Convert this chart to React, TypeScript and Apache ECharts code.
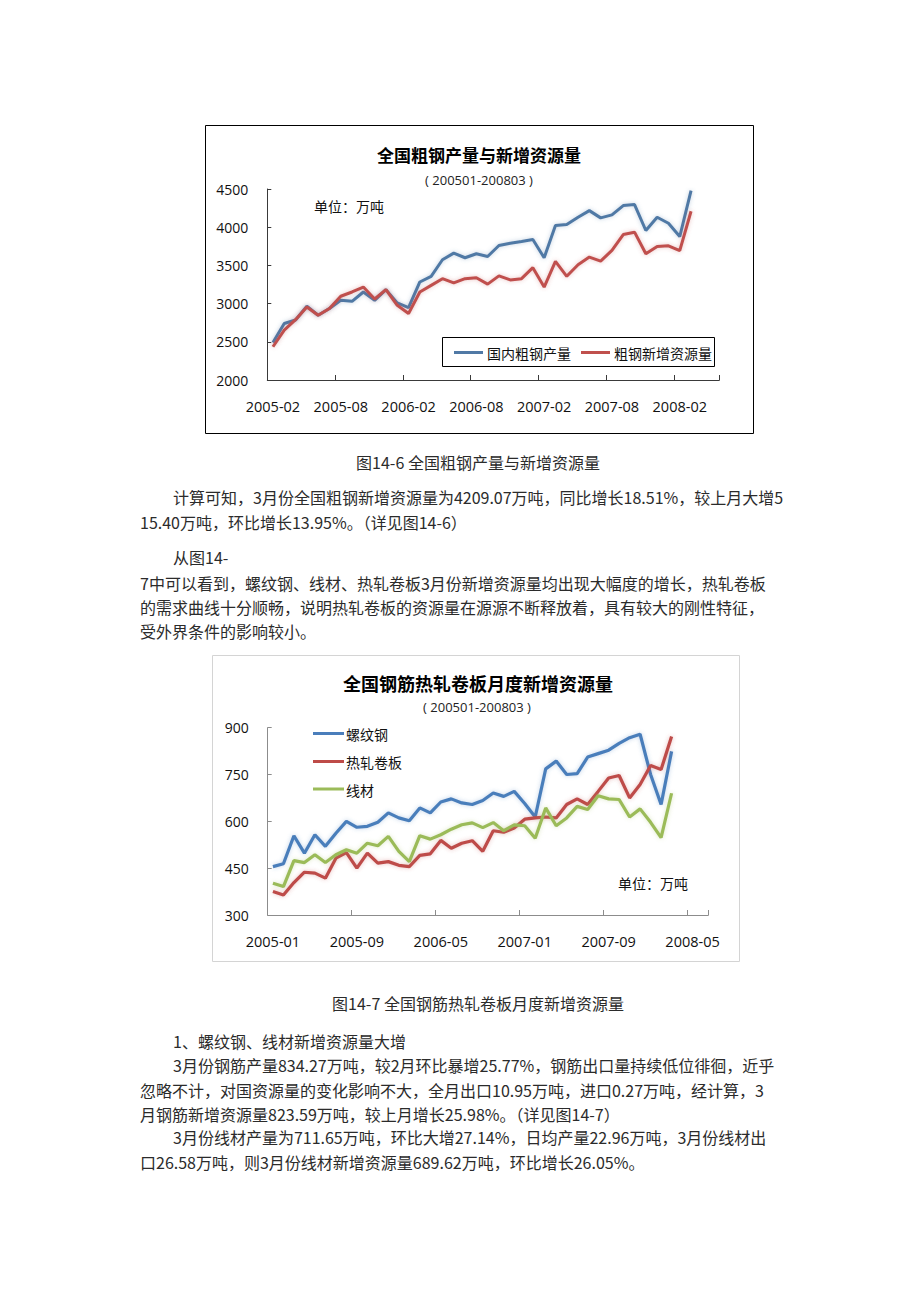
import React, { useEffect, useRef } from "react";
import * as echarts from "echarts";

// ---------- Chart 14-6 data (2005-02 .. 2008-03) ----------
const months1 = [
  "2005-02", "2005-03", "2005-04", "2005-05", "2005-06", "2005-07", "2005-08", "2005-09", "2005-10", "2005-11", "2005-12",
  "2006-01", "2006-02", "2006-03", "2006-04", "2006-05", "2006-06", "2006-07", "2006-08", "2006-09", "2006-10", "2006-11", "2006-12",
  "2007-01", "2007-02", "2007-03", "2007-04", "2007-05", "2007-06", "2007-07", "2007-08", "2007-09", "2007-10", "2007-11", "2007-12",
  "2008-01", "2008-02", "2008-03", "2008-04", "2008-05",
];
const crudeSteelOutput = [
  2490, 2740, 2785, 2965, 2848, 2935, 3043, 3030, 3152, 3043,
  3183, 3009, 2948, 3283, 3357, 3574, 3661, 3600, 3652, 3617,
  3761, 3791, 3813, 3839, 3600, 4022, 4035, 4130, 4217, 4122,
  4161, 4283, 4296, 3957, 4130, 4052, 3878, 4478,
];
const crudeSteelNewResource = [
  2435, 2652, 2790, 2955, 2848, 2935, 3096, 3152, 3217, 3060,
  3183, 2978, 2870, 3152, 3239, 3326, 3270, 3326, 3339, 3255,
  3363, 3310, 3326, 3470, 3217, 3552, 3357, 3509, 3609, 3557,
  3696, 3904, 3935, 3652, 3748, 3757, 3694, 4209,
];

// ---------- Chart 14-7 data (2005-01 .. 2008-03) ----------
const months2 = [
  "2005-01", "2005-02", "2005-03", "2005-04", "2005-05", "2005-06", "2005-07", "2005-08", "2005-09", "2005-10", "2005-11", "2005-12",
  "2006-01", "2006-02", "2006-03", "2006-04", "2006-05", "2006-06", "2006-07", "2006-08", "2006-09", "2006-10", "2006-11", "2006-12",
  "2007-01", "2007-02", "2007-03", "2007-04", "2007-05", "2007-06", "2007-07", "2007-08", "2007-09", "2007-10", "2007-11", "2007-12",
  "2008-01", "2008-02", "2008-03", "2008-04", "2008-05", "2008-06",
];
const rebar = [
  455, 464, 554, 498, 557, 520, 562, 600, 581, 584,
  597, 627, 611, 602, 643, 627, 662, 672, 659, 654,
  667, 691, 680, 696, 657, 614, 768, 793, 750, 753,
  806, 817, 828, 850, 868, 879, 750, 654, 824,
];
const hotRolledCoil = [
  375, 364, 404, 437, 434, 418, 482, 500, 450, 498,
  466, 471, 459, 455, 491, 496, 539, 514, 530, 538,
  504, 570, 565, 579, 607, 611, 614, 611, 654, 672,
  654, 696, 739, 747, 675, 718, 779, 766, 872,
];
const wireRod = [
  402, 391, 474, 468, 493, 468, 493, 509, 498, 530,
  522, 552, 504, 471, 554, 543, 557, 575, 589, 595,
  580, 596, 570, 589, 586, 546, 643, 586, 611, 648,
  638, 682, 672, 670, 614, 640, 597, 548, 690,
];

// ---------- Texts ----------
const title1 = "全国粗钢产量与新增资源量";
const title2 = "全国钢筋热轧卷板月度新增资源量";
const subTitle = "( 200501-200803 )";
const unitText = "单位：万吨";
const legend1 = ["国内粗钢产量", "粗钢新增资源量"];
const legend2 = ["螺纹钢", "热轧卷板", "线材"];
const caption1 = "图14-6 全国粗钢产量与新增资源量";
const caption2 = "图14-7 全国钢筋热轧卷板月度新增资源量";
const para1 = [
  "计算可知，3月份全国粗钢新增资源量为4209.07万吨，同比增长18.51%，较上月大增5",
  "15.40万吨，环比增长13.95%。（详见图14-6）",
];
const para2 = [
  "从图14-",
  "7中可以看到，螺纹钢、线材、热轧卷板3月份新增资源量均出现大幅度的增长，热轧卷板",
  "的需求曲线十分顺畅，说明热轧卷板的资源量在源源不断释放着，具有较大的刚性特征，",
  "受外界条件的影响较小。",
];
const para3 = [
  "1、螺纹钢、线材新增资源量大增",
  "3月份钢筋产量834.27万吨，较2月环比暴增25.77%，钢筋出口量持续低位徘徊，近乎",
  "忽略不计，对国资源量的变化影响不大，全月出口10.95万吨，进口0.27万吨，经计算，3",
  "月钢筋新增资源量823.59万吨，较上月增长25.98%。（详见图14-7）",
  "3月份线材产量为711.65万吨，环比大增27.14%，日均产量22.96万吨，3月份线材出",
  "口26.58万吨，则3月份线材新增资源量689.62万吨，环比增长26.05%。",
];

const FONT = "'Open Sans', 'Noto Sans CJK SC', sans-serif";
const CJK = "'Noto Sans CJK SC', sans-serif";
const BODY_COLOR = "#2b2b2b";

const C1_BLUE = "#5079a5";
const C1_RED = "#c0504d";
const C2_BLUE = "#4a7ebb";
const C2_RED = "#be4b48";
const C2_GREEN = "#9bbb59";

function txt(text: string, x: number, y: number, size: number, extra: any = {}) {
  return {
    type: "text",
    silent: true,
    style: {
      text,
      x,
      y,
      fontSize: size,
      fontFamily: extra.fontFamily || CJK,
      fontWeight: extra.fontWeight || "normal",
      fill: extra.fill || "#111",
      textAlign: extra.align || "left",
      textVerticalAlign: "middle",
    },
  };
}

function hline(x1: number, x2: number, y: number, color: string, w: number) {
  return {
    type: "line",
    silent: true,
    shape: { x1, y1: y, x2, y2: y },
    style: { stroke: color, lineWidth: w },
  };
}

function buildOption(): any {
  const xAxisBase = (grid: number, data: string[], step: number, color: string) => ({
    gridIndex: grid,
    type: "category",
    data,
    boundaryGap: true,
    axisLine: { show: true, lineStyle: { color, width: 1 } },
    axisTick: {
      show: true,
      inside: true,
      length: 5,
      interval: (i: number) => i % step === 0,
      lineStyle: { color, width: 1 },
    },
    axisLabel: {
      show: true,
      interval: (i: number) => i % step === 0,
      margin: 19,
      fontSize: 14.5,
      color: "#111",
      fontFamily: FONT,
    },
    splitLine: { show: false },
  });
  const yAxisBase = (grid: number, min: number, max: number, interval: number, color: string) => ({
    gridIndex: grid,
    type: "value",
    min,
    max,
    interval,
    axisLine: { show: true, lineStyle: { color, width: 1 } },
    axisTick: { show: true, inside: true, length: 4, lineStyle: { color, width: 1 } },
    axisLabel: {
      margin: 19,
      fontSize: 14,
      color: "#111",
      fontFamily: FONT,
      formatter: (v: number) => String(v),
    },
    splitLine: { show: false },
  });
  const lineSeries = (name: string, data: number[], color: string, xi: number, width: number) => ({
    name,
    type: "line",
    xAxisIndex: xi,
    yAxisIndex: xi,
    data,
    symbol: "none",
    smooth: false,
    lineStyle: {
      color,
      width,
      shadowBlur: 4,
      shadowColor: echarts.color.modifyAlpha(color, 0.35),
    },
    itemStyle: { color },
    emphasis: { disabled: true },
  });

  const graphic: any[] = [];
  // chart frames
  graphic.push({
    type: "rect",
    silent: true,
    shape: { x: 205.5, y: 125.5, width: 548, height: 308 },
    style: { fill: "none", stroke: "#000", lineWidth: 1 },
  });
  graphic.push({
    type: "rect",
    silent: true,
    shape: { x: 212.5, y: 655.5, width: 527, height: 306 },
    style: { fill: "none", stroke: "#d4d4d4", lineWidth: 1 },
  });
  // chart 1 titles
  graphic.push(txt(title1, 479, 154.5, 17, { align: "center", fontWeight: "bold", fill: "#000" }));
  graphic.push(txt(subTitle, 479, 179.5, 13, { align: "center", fill: "#222", fontFamily: FONT }));
  graphic.push(txt(unitText, 314, 206, 14, { fill: "#111" }));
  // chart 1 legend
  graphic.push({
    type: "rect",
    silent: true,
    shape: { x: 442.5, y: 337.5, width: 272, height: 29 },
    style: { fill: "#fff", stroke: "#000", lineWidth: 1 },
  });
  graphic.push(hline(454, 483, 352.5, C1_BLUE, 3));
  graphic.push(txt(legend1[0], 487, 353, 14));
  graphic.push(hline(581, 610, 352.5, C1_RED, 3));
  graphic.push(txt(legend1[1], 614, 353, 14));
  // chart 2 titles
  graphic.push(txt(title2, 478, 683, 18, { align: "center", fontWeight: "bold", fill: "#000" }));
  graphic.push(txt(subTitle, 477, 706.5, 13, { align: "center", fill: "#222", fontFamily: FONT }));
  graphic.push(txt(unitText, 618, 883, 14, { fill: "#111" }));
  // chart 2 legend
  const lg2Colors = [C2_BLUE, C2_RED, C2_GREEN];
  const lg2Y = [733.5, 761.5, 789];
  legend2.forEach((name, i) => {
    graphic.push(hline(313, 344, lg2Y[i], lg2Colors[i], 3));
    graphic.push(txt(name, 346, lg2Y[i] + 0.5, 14));
  });
  // captions & body text
  graphic.push(txt(caption1, 478, 462, 16, { align: "center", fill: BODY_COLOR }));
  graphic.push(txt(para1[0], 173, 497, 16, { fill: BODY_COLOR }));
  graphic.push(txt(para1[1], 140, 521.5, 16, { fill: BODY_COLOR }));
  graphic.push(txt(para2[0], 173, 557, 16, { fill: BODY_COLOR }));
  graphic.push(txt(para2[1], 140, 582.5, 16, { fill: BODY_COLOR }));
  graphic.push(txt(para2[2], 140, 606.5, 16, { fill: BODY_COLOR }));
  graphic.push(txt(para2[3], 140, 630.5, 16, { fill: BODY_COLOR }));
  graphic.push(txt(caption2, 478, 1002.5, 16, { align: "center", fill: BODY_COLOR }));
  const p3y = [1040.5, 1064.5, 1089.5, 1113.5, 1137, 1161.5];
  const p3x = [173, 173, 140, 140, 173, 140];
  para3.forEach((line, i) => {
    graphic.push(txt(line, p3x[i], p3y[i], 16, { fill: BODY_COLOR }));
  });

  return {
    animation: false,
    backgroundColor: "#ffffff",
    grid: [
      { left: 267.3, top: 189, width: 452, height: 191 },
      { left: 267.7, top: 727.7, width: 440.6, height: 187.3 },
    ],
    xAxis: [xAxisBase(0, months1, 6, "#3a3a3a"), xAxisBase(1, months2, 8, "#8c8c8c")],
    yAxis: [yAxisBase(0, 2000, 4500, 500, "#3a3a3a"), yAxisBase(1, 300, 900, 150, "#8c8c8c")],
    series: [
      lineSeries(legend1[0], crudeSteelOutput, C1_BLUE, 0, 3),
      lineSeries(legend1[1], crudeSteelNewResource, C1_RED, 0, 3),
      lineSeries(legend2[0], rebar, C2_BLUE, 1, 3.2),
      lineSeries(legend2[1], hotRolledCoil, C2_RED, 1, 3.2),
      lineSeries(legend2[2], wireRod, C2_GREEN, 1, 3.2),
    ],
    graphic,
  };
}

export default function App() {
  const ref = useRef<HTMLDivElement>(null);
  useEffect(() => {
    if (!ref.current) return;
    const chart = echarts.init(ref.current, null, { renderer: "svg", width: 920, height: 1302 });
    chart.setOption(buildOption());
    return () => {
      chart.dispose();
    };
  }, []);
  return (
    <div
      ref={ref}
      style={{ position: "absolute", left: 0, top: 0, width: 920, height: 1302, background: "#fff" }}
    />
  );
}
